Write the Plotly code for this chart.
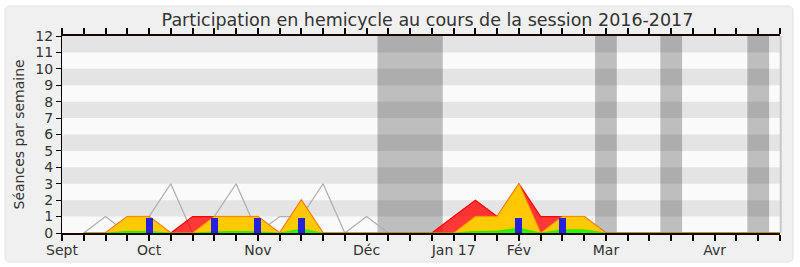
import plotly.graph_objects as go

# ---- data (weekly, week index 1..33) ----
weeks = list(range(1, 34))
median_line = [0, 1, 0, 1, 3, 0, 1, 3, 0, 1, 1, 3, 0, 1, 0, 0, 0, 0, 1, 1, 2, 0, 1, 1, 0,
               0, 0, 0, 0, 0, 0, 0, 0]
presences = [0, 0, 1, 1, 0, 1, 1, 1, 1, 0, 2, 0, 0, 0, 0, 0, 0, 1, 2, 1, 3, 1, 1, 1, 0,
             0, 0, 0, 0, 0, 0, 0, 0]
participations = [0, 0, 1, 1, 0, 0, 1, 1, 1, 0, 2, 0, 0, 0, 0, 0, 0, 0, 1, 1, 3, 0, 1, 1, 0,
                  0, 0, 0, 0, 0, 0, 0, 0]
interventions = [0, 0, 0.1, 0.1, 0, 0, 0.07, 0.1, 0.07, 0, 0.25, 0, 0, 0, 0, 0, 0, 0, 0.1, 0.12,
                 0.3, 0, 0.2, 0.2, 0, 0, 0, 0, 0, 0, 0, 0, 0]
question_weeks = [4, 7, 9, 11, 21, 23]
question_values = [0.9, 0.9, 0.9, 0.9, 0.9, 0.9]
vacances = [(14.5, 17.5), (24.5, 25.5), (27.5, 28.5), (31.5, 32.5)]
month_weeks = [0, 4, 9, 14, 18, 21, 25, 30]
month_names = ["Sept", "Oct", "Nov", "Déc", "Jan 17", "Fév", "Mar", "Avr"]
y_max = 12

FONT = "DejaVu Sans"
TXT = "#333333"

fig = go.Figure()
fig.add_trace(go.Scatter(x=weeks, y=median_line, mode="lines",
                         line=dict(color="#b0b0b0", width=1.3), showlegend=False))
fig.add_trace(go.Scatter(x=weeks, y=presences, mode="lines", fill="tozeroy",
                         fillcolor="rgba(255,0,0,0.78)",
                         line=dict(color="#ff0000", width=1.2), showlegend=False))
fig.add_trace(go.Scatter(x=weeks, y=participations, mode="lines", fill="tozeroy",
                         fillcolor="rgba(255,212,0,0.93)",
                         line=dict(color="rgba(255,170,0,0.55)", width=1.5), showlegend=False))
fig.add_trace(go.Scatter(x=weeks, y=interventions, mode="lines", fill="tozeroy",
                         fillcolor="rgba(0,255,0,0.85)",
                         line=dict(color="rgba(0,230,0,0.9)", width=0.6), showlegend=False))
# bars on an overlaying y axis (same scale) so they are drawn above the filled areas
fig.add_trace(go.Bar(x=question_weeks, y=question_values, width=0.32, xaxis="x", yaxis="y2",
                     marker=dict(color="#2222dd", line=dict(width=0)), showlegend=False))

shapes = []
W, H = 718.0, 197.0
def px(xp):
    return (xp - 62) / W
def py(yp):
    return (233 - yp) / H
x0, x1, y0, y1, r = 5, 793, 6, 262, 5
path = (f"M {px(x0+r)},{py(y0)} L {px(x1-r)},{py(y0)} Q {px(x1)},{py(y0)} {px(x1)},{py(y0+r)} "
        f"L {px(x1)},{py(y1-r)} Q {px(x1)},{py(y1)} {px(x1-r)},{py(y1)} "
        f"L {px(x0+r)},{py(y1)} Q {px(x0)},{py(y1)} {px(x0)},{py(y1-r)} "
        f"L {px(x0)},{py(y0+r)} Q {px(x0)},{py(y0)} {px(x0+r)},{py(y0)} Z")
shapes.append(dict(type="path", path=path, xref="paper", yref="paper", layer="below",
                   fillcolor="#f0f0f0", line=dict(color="#e2e2e2", width=1)))
shapes.append(dict(type="rect", xref="paper", yref="paper", x0=0, x1=1, y0=0, y1=1,
                   layer="below", fillcolor="#fafafa", line=dict(width=0)))
for k in range(1, y_max, 2):
    shapes.append(dict(type="rect", xref="paper", yref="y", x0=0, x1=1, y0=k, y1=k + 1,
                       layer="below", fillcolor="#e4e4e4", line=dict(width=0)))
for a, b in vacances:
    shapes.append(dict(type="rect", xref="x", yref="paper", x0=a, x1=b, y0=0, y1=1,
                       layer="below", fillcolor="rgba(0,0,0,0.24)", line=dict(width=0)))
shapes.append(dict(type="line", xref="paper", yref="paper", x0=1.001, x1=1.001, y0=0, y1=1,
                   line=dict(color="#c8c8c8", width=2)))

fig.update_layout(
    width=800, height=267,
    margin=dict(l=62, r=20, t=36, b=34, autoexpand=False),
    paper_bgcolor="#ffffff",
    plot_bgcolor="#fafafa",
    shapes=shapes,
    bargap=0,
    title=dict(text="Participation en hemicycle au cours de la session 2016-2017",
               x=(427.5 - 62) / W, xref="paper", xanchor="center",
               y=1 - 19.5 / 267, yref="container", yanchor="middle",
               font=dict(family=FONT, size=17.5, color=TXT)),
    xaxis=dict(range=[0, 33], tickmode="array", tickvals=month_weeks, ticktext=month_names,
               ticks="outside", ticklen=6, tickcolor="#000000", tickwidth=1.5,
               minor=dict(ticks="outside", ticklen=6, tickcolor="#000000", tickwidth=1.5,
                          tickmode="linear", tick0=0, dtick=1, showgrid=False),
               showline=True, linecolor="#1a0500", linewidth=1.5, layer="above traces",
               mirror="ticks",
               showgrid=False, zeroline=False, automargin=False,
               ticklabelstandoff=-3,
               tickfont=dict(family=FONT, size=14, color=TXT)),
    yaxis=dict(range=[0, y_max], dtick=1, ticks="outside", ticklen=5, tickcolor="#000000",
               showline=True, linecolor="#000000", linewidth=1,
               showgrid=False, zeroline=False, automargin=False,
               tickfont=dict(family=FONT, size=14, color=TXT)),
    yaxis2=dict(range=[0, y_max], overlaying="y", side="right", showticklabels=False,
                ticks="", showline=False, showgrid=False, zeroline=False, automargin=False),
    annotations=[dict(text="Séances par semaine", xref="paper", yref="paper",
                      x=(18 - 62) / W, y=0.5, textangle=-90, showarrow=False,
                      xanchor="center", yanchor="middle",
                      font=dict(family=FONT, size=14, color=TXT))],
)

fig.write_html("out.html")
